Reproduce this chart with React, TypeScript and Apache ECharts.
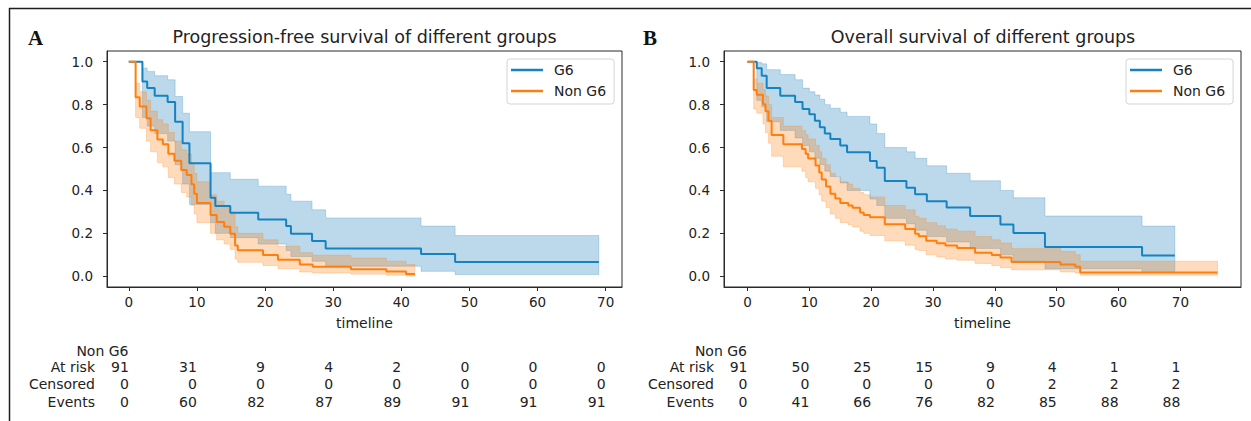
import React, { useEffect, useRef } from "react";
import * as echarts from "echarts";

// ---------- data ----------
const xTicks = [0, 10, 20, 30, 40, 50, 60, 70];
const yTicks = [0, 0.2, 0.4, 0.6, 0.8, 1.0];
const tableRowNames = ["At risk", "Censored", "Events"];

// Progression-free survival, G6
const pfsG6Time = [0, 2, 2.7, 3.8, 5.7, 6.8, 7.9, 8.9, 12, 12.7, 14.9, 19, 23.1, 23.8, 26.9, 28.9, 42.9, 47.9, 69];
const pfsG6Surv = [1, 0.908, 0.877, 0.842, 0.812, 0.72, 0.62, 0.527, 0.366, 0.327, 0.296, 0.265, 0.234, 0.198, 0.164, 0.129, 0.104, 0.067, 0.067];
const pfsG6Lower = [1, 0.74, 0.7, 0.665, 0.63, 0.52, 0.43, 0.335, 0.25, 0.2, 0.18, 0.15, 0.12, 0.092, 0.07, 0.047, 0.023, 0.008, 0.008];
const pfsG6Upper = [1, 0.97, 0.955, 0.935, 0.916, 0.838, 0.76, 0.674, 0.483, 0.483, 0.452, 0.42, 0.382, 0.35, 0.31, 0.272, 0.234, 0.19, 0.19];

// Progression-free survival, Non G6
const pfsNonTime = [0, 1, 1.6, 2.6, 3.2, 4.2, 5.0, 5.8, 6.7, 7.7, 8.5, 9.2, 9.6, 10, 12, 12.9, 14, 14.9, 15.6, 16, 19.7, 21.9, 25.1, 27, 32.6, 37.8, 40.7, 42];
const pfsNonSurv = [1, 0.835, 0.791, 0.736, 0.681, 0.637, 0.615, 0.571, 0.538, 0.495, 0.472, 0.429, 0.385, 0.341, 0.286, 0.253, 0.231, 0.198, 0.143, 0.121, 0.099, 0.077, 0.055, 0.044, 0.033, 0.022, 0.011, 0.011];
const pfsNonLower = [1, 0.74, 0.69, 0.63, 0.58, 0.53, 0.51, 0.46, 0.43, 0.39, 0.37, 0.33, 0.29, 0.25, 0.2, 0.17, 0.15, 0.125, 0.08, 0.065, 0.05, 0.035, 0.02, 0.015, 0.01, 0.005, 0.001, 0.001];
const pfsNonUpper = [1, 0.9, 0.86, 0.82, 0.77, 0.73, 0.71, 0.67, 0.63, 0.59, 0.57, 0.53, 0.48, 0.44, 0.38, 0.35, 0.32, 0.29, 0.23, 0.2, 0.17, 0.14, 0.11, 0.098, 0.085, 0.07, 0.055, 0.055];

// Overall survival, G6
const osG6Time = [0, 1.5, 2.3, 3.1, 5.3, 7.7, 8.9, 10, 10.9, 11.7, 12.5, 13.4, 15, 16.1, 19.8, 20.9, 22.2, 25.7, 27.1, 29, 32.2, 36, 40.9, 43, 48.1, 63.8, 69.1];
const osG6Surv = [1, 0.97, 0.935, 0.877, 0.841, 0.812, 0.78, 0.755, 0.725, 0.695, 0.665, 0.64, 0.61, 0.578, 0.537, 0.506, 0.444, 0.413, 0.382, 0.35, 0.32, 0.281, 0.241, 0.202, 0.136, 0.097, 0.097];
const osG6Lower = [1, 0.82, 0.79, 0.72, 0.68, 0.645, 0.61, 0.58, 0.55, 0.52, 0.49, 0.465, 0.435, 0.4, 0.36, 0.33, 0.27, 0.245, 0.215, 0.185, 0.16, 0.13, 0.1, 0.07, 0.035, 0.018, 0.018];
const osG6Upper = [1, 0.996, 0.99, 0.963, 0.94, 0.916, 0.877, 0.86, 0.845, 0.825, 0.8, 0.783, 0.765, 0.745, 0.71, 0.665, 0.6, 0.58, 0.55, 0.515, 0.48, 0.445, 0.4, 0.366, 0.281, 0.234, 0.234];

// Overall survival, Non G6
const osNonTime = [0, 1, 1.5, 2.5, 2.9, 3.4, 3.9, 5.8, 8.8, 9.4, 9.8, 11, 11.6, 12, 12.7, 13.4, 14.2, 15, 16.3, 17, 18.2, 18.8, 19.8, 22.2, 25.5, 27.1, 27.7, 28.9, 30.6, 32, 33.9, 36.8, 39.5, 40.9, 42.7, 50.6, 53, 53.8, 76];
const osNonSurv = [1, 0.868, 0.846, 0.802, 0.769, 0.725, 0.659, 0.615, 0.593, 0.571, 0.549, 0.516, 0.484, 0.451, 0.418, 0.385, 0.363, 0.341, 0.33, 0.319, 0.297, 0.286, 0.275, 0.242, 0.22, 0.198, 0.187, 0.165, 0.154, 0.143, 0.132, 0.11, 0.099, 0.088, 0.066, 0.055, 0.044, 0.018, 0.018];
const osNonLower = [1, 0.78, 0.76, 0.71, 0.67, 0.62, 0.56, 0.51, 0.49, 0.46, 0.44, 0.41, 0.38, 0.35, 0.32, 0.29, 0.27, 0.25, 0.24, 0.23, 0.21, 0.2, 0.19, 0.165, 0.145, 0.125, 0.12, 0.1, 0.09, 0.08, 0.075, 0.06, 0.05, 0.04, 0.03, 0.02, 0.015, 0.005, 0.005];
const osNonUpper = [1, 0.92, 0.9, 0.87, 0.84, 0.8, 0.74, 0.7, 0.68, 0.66, 0.64, 0.61, 0.58, 0.55, 0.52, 0.48, 0.46, 0.44, 0.43, 0.41, 0.39, 0.38, 0.37, 0.33, 0.31, 0.28, 0.27, 0.25, 0.235, 0.22, 0.21, 0.185, 0.17, 0.155, 0.13, 0.115, 0.1, 0.07, 0.07];

// Number-at-risk tables (Non G6)
const pfsAtRisk = [91, 31, 9, 4, 2, 0, 0, 0];
const pfsCensored = [0, 0, 0, 0, 0, 0, 0, 0];
const pfsEvents = [0, 60, 82, 87, 89, 91, 91, 91];
const osAtRisk = [91, 50, 25, 15, 9, 4, 1, 1];
const osCensored = [0, 0, 0, 0, 0, 2, 2, 2];
const osEvents = [0, 41, 66, 76, 82, 85, 88, 88];

// ---------- styling ----------
const FONT = "DejaVu Sans";
const TEXT = "#222222";
const AXIS = "#2b2b2b";
const BLUE = "#1483c2";
const ORANGE = "#ff7f0e";
const BLUE_FILL = "rgba(31,128,190,0.30)";
const BLUE_EDGE = "rgba(31,128,190,0.25)";
const ORANGE_FILL = "rgba(255,127,14,0.28)";
const ORANGE_EDGE = "rgba(255,127,14,0.25)";

const GRID_TOP = 51;
const GRID_H = 236;
const ROW_Y = [367, 384.3, 401.5];
const HEADER_Y = 350.5;

function bandSeries(gi: number, name: string, t: number[], lo: number[], hi: number[], fill: string, edge: string) {
  return {
    type: "custom",
    name,
    xAxisIndex: gi,
    yAxisIndex: gi,
    silent: true,
    z: 1,
    data: t.map((v, i) => [v, lo[i], hi[i]]),
    encode: { x: 0, y: [1, 2] },
    renderItem: (params: any, api: any) => {
      if (params.dataIndex !== 0) return null;
      const pts: number[][] = [];
      for (let i = 0; i < t.length - 1; i++) {
        pts.push(api.coord([t[i], hi[i]]));
        pts.push(api.coord([t[i + 1], hi[i]]));
      }
      for (let i = t.length - 2; i >= 0; i--) {
        pts.push(api.coord([t[i + 1], lo[i]]));
        pts.push(api.coord([t[i], lo[i]]));
      }
      return {
        type: "polygon",
        shape: { points: pts },
        style: { fill, stroke: edge, lineWidth: 1 },
      };
    },
  };
}

function lineSeries(gi: number, name: string, t: number[], s: number[], color: string) {
  return {
    type: "line",
    name,
    xAxisIndex: gi,
    yAxisIndex: gi,
    step: "end",
    showSymbol: false,
    symbol: "none",
    z: 3,
    data: t.map((v, i) => [v, s[i]]),
    lineStyle: { color, width: 2 },
    itemStyle: { color },
  };
}

function tableSeries(gi: number, rows: number[][]) {
  const data: number[][] = [];
  rows.forEach((row, r) => row.forEach((v, c) => data.push([xTicks[c], 0, r, v])));
  return {
    type: "custom",
    name: "table" + gi,
    xAxisIndex: gi,
    yAxisIndex: gi,
    silent: true,
    clip: false,
    data,
    encode: { x: 0, y: 1 },
    renderItem: (params: any, api: any) => {
      const x = api.coord([api.value(0), 0])[0];
      const r = api.value(2);
      return {
        type: "text",
        x,
        y: ROW_Y[r],
        style: {
          text: String(api.value(3)),
          align: "right",
          verticalAlign: "middle",
          fontSize: 14,
          fontFamily: FONT,
          fill: TEXT,
        },
      };
    },
  };
}

function xAxis(gi: number, min: number, max: number) {
  return {
    type: "value",
    gridIndex: gi,
    min,
    max,
    name: "timeline",
    nameLocation: "middle",
    nameGap: 29,
    nameTextStyle: { fontSize: 14, fontFamily: FONT, color: TEXT },
    axisLine: { show: true, onZero: false, lineStyle: { color: AXIS, width: 1 } },
    axisTick: { show: true, inside: false, length: 4, customValues: xTicks, lineStyle: { color: AXIS } },
    axisLabel: { customValues: xTicks, margin: 8, fontSize: 13.5, fontFamily: FONT, color: TEXT },
    splitLine: { show: false },
  };
}

function yAxis(gi: number) {
  return {
    type: "value",
    gridIndex: gi,
    min: -0.05,
    max: 1.05,
    axisLine: { show: true, onZero: false, lineStyle: { color: AXIS, width: 1 } },
    axisTick: { show: true, inside: false, length: 4, customValues: yTicks, lineStyle: { color: AXIS } },
    axisLabel: {
      customValues: yTicks,
      margin: 14,
      fontSize: 13.5,
      fontFamily: FONT,
      color: TEXT,
      formatter: (v: number) => v.toFixed(1),
    },
    splitLine: { show: false },
  };
}

function legend(left: number) {
  return {
    data: ["G6", "Non G6"],
    orient: "vertical",
    left,
    top: 59,
    icon: "rect",
    itemWidth: 32,
    itemHeight: 2.5,
    itemGap: 7,
    padding: [4, 8, 6, 4],
    borderColor: "#d4d4d4",
    borderWidth: 1,
    borderRadius: 3,
    backgroundColor: "#ffffff",
    selectedMode: false,
    textStyle: { fontSize: 14, fontFamily: FONT, color: TEXT, padding: [0, 0, 0, 6] },
  };
}

function text(x: number, y: number, t: string, opts: any = {}) {
  return {
    type: "text",
    x,
    y,
    silent: true,
    style: {
      text: t,
      fontSize: 14,
      fontFamily: FONT,
      fill: TEXT,
      align: "right",
      verticalAlign: "middle",
      ...opts,
    },
  };
}

export default function App() {
  const ref = useRef<HTMLDivElement>(null);

  useEffect(() => {
    if (!ref.current) return;
    const chart = echarts.init(ref.current, undefined, { renderer: "svg" });

    const graphics: any[] = [
      { type: "line", silent: true, shape: { x1: 9, y1: 8.5, x2: 1251, y2: 8.5 }, style: { stroke: "#1e1e1e", lineWidth: 1.5 } },
      { type: "line", silent: true, shape: { x1: 9.5, y1: 8, x2: 9.5, y2: 421 }, style: { stroke: "#1e1e1e", lineWidth: 1.5 } },
      text(28, 37.5, "A", { align: "left", fontFamily: "Liberation Serif", fontWeight: "bold", fontSize: 21, fill: "#111" }),
      text(643, 37.5, "B", { align: "left", fontFamily: "Liberation Serif", fontWeight: "bold", fontSize: 21, fill: "#111" }),
      text(364.5, 36.5, "Progression-free survival of different groups", { align: "center", fontSize: 17.5 }),
      text(983, 36.5, "Overall survival of different groups", { align: "center", fontSize: 17.5 }),
      text(128.5, HEADER_Y, "Non G6"),
      text(747, HEADER_Y, "Non G6"),
    ];
    tableRowNames.forEach((n, r) => {
      graphics.push(text(95, ROW_Y[r], n));
      graphics.push(text(714, ROW_Y[r], n));
    });

    chart.setOption({
      animation: false,
      backgroundColor: "#ffffff",
      textStyle: { fontFamily: FONT },
      grid: [
        { left: 107, top: GRID_TOP, width: 515, height: GRID_H, show: true, borderColor: AXIS, borderWidth: 1, backgroundColor: "transparent" },
        { left: 724, top: GRID_TOP, width: 517, height: GRID_H, show: true, borderColor: AXIS, borderWidth: 1, backgroundColor: "transparent" },
      ],
      xAxis: [xAxis(0, -3.2, 72.4), xAxis(1, -3.8, 79.8)],
      yAxis: [yAxis(0), yAxis(1)],
      legend: [legend(507), legend(1126)],
      graphic: graphics,
      series: [
        bandSeries(0, "G6 CI", pfsG6Time, pfsG6Lower, pfsG6Upper, BLUE_FILL, BLUE_EDGE),
        lineSeries(0, "G6", pfsG6Time, pfsG6Surv, BLUE),
        bandSeries(0, "Non G6 CI", pfsNonTime, pfsNonLower, pfsNonUpper, ORANGE_FILL, ORANGE_EDGE),
        lineSeries(0, "Non G6", pfsNonTime, pfsNonSurv, ORANGE),
        bandSeries(1, "G6 CI", osG6Time, osG6Lower, osG6Upper, BLUE_FILL, BLUE_EDGE),
        lineSeries(1, "G6", osG6Time, osG6Surv, BLUE),
        bandSeries(1, "Non G6 CI", osNonTime, osNonLower, osNonUpper, ORANGE_FILL, ORANGE_EDGE),
        lineSeries(1, "Non G6", osNonTime, osNonSurv, ORANGE),
        tableSeries(0, [pfsAtRisk, pfsCensored, pfsEvents]),
        tableSeries(1, [osAtRisk, osCensored, osEvents]),
      ],
    });

    return () => chart.dispose();
  }, []);

  return (
    <div
      ref={ref}
      style={{ position: "fixed", left: 0, top: 0, width: 1251, height: 421, background: "#fff" }}
    />
  );
}
